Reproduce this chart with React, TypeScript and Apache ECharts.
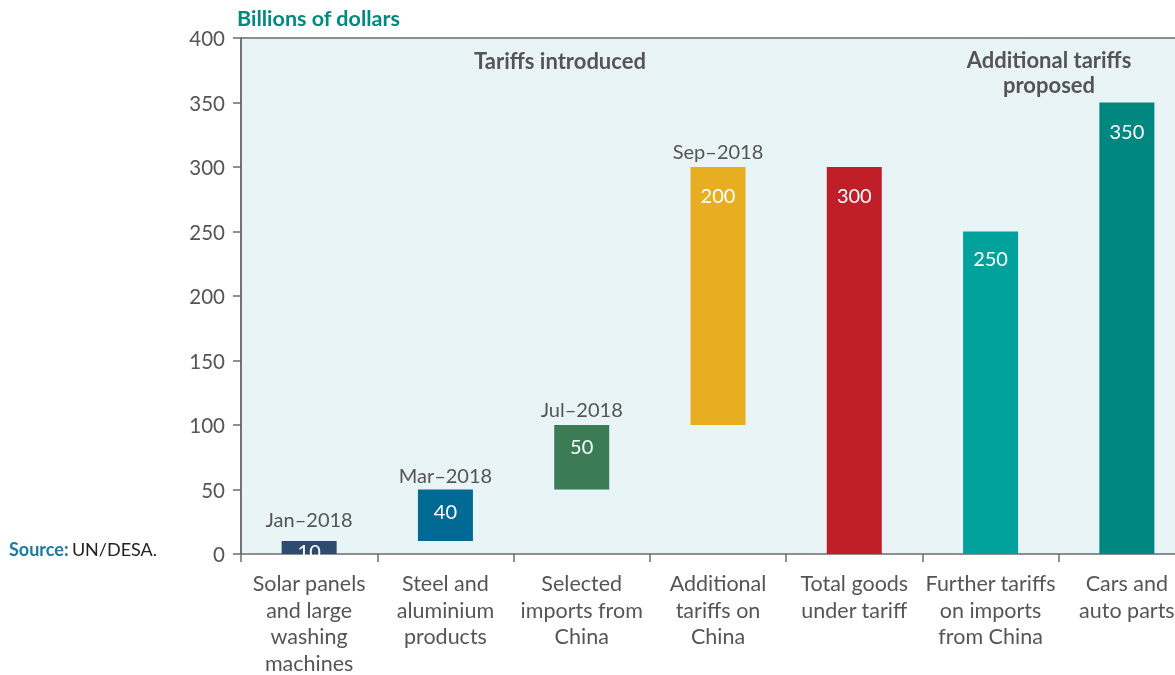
import React, { useEffect, useRef } from "react";
import * as echarts from "echarts";

const categories = [
  "Solar panels\nand large\nwashing\nmachines",
  "Steel and\naluminium\nproducts",
  "Selected\nimports from\nChina",
  "Additional\ntariffs on\nChina",
  "Total goods\nunder tariff",
  "Further tariffs\non imports\nfrom China",
  "Cars and\nauto parts",
];
const baseValues = [0, 10, 50, 100, 0, 0, 0];
const barValues = [10, 40, 50, 200, 300, 250, 350];
const dateLabels = ["Jan–2018", "Mar–2018", "Jul–2018", "Sep–2018", "", "", ""];
const barColors = ["#2c4b6e", "#006994", "#3b7c56", "#e7ae22", "#c01f29", "#00a29b", "#00877f"];
const yTicks = [0, 400, 50];

const FONT = "Lato";
const GREY = "#555555";

export default function App() {
  const ref = useRef<HTMLDivElement>(null);
  useEffect(() => {
    if (!ref.current) return;
    const chart = echarts.init(ref.current, undefined, { renderer: "svg" });
    chart.setOption({
      animation: false,
      textStyle: { fontFamily: FONT },
      grid: {
        left: 241,
        right: 25,
        top: 38,
        bottom: 121,
        outerBoundsMode: "none",
        containLabel: false,
        show: true,
        backgroundColor: "#e8f4f5",
        borderWidth: 0,
      },
      xAxis: [
        {
          type: "category",
          data: categories,
          axisLine: { lineStyle: { color: "#6b6b6b", width: 1.5 } },
          axisTick: { show: true, length: 8, lineStyle: { color: "#6b6b6b", width: 1.5 } },
          axisLabel: {
            color: GREY,
            fontSize: 21.5,
            lineHeight: 26.5,
            margin: 16,
            fontFamily: FONT,
            interval: 0,
          },
          splitLine: {
            show: true,
            interval: (index: number) => index === 5,
            lineStyle: { color: "#6b6b6b", width: 1.5 },
          },
        },
        {
          type: "category",
          data: categories,
          position: "top",
          axisLine: { show: true, lineStyle: { color: "#6b6b6b", width: 1.5 } },
          axisTick: { show: false },
          axisLabel: { show: false },
        },
      ],
      yAxis: {
        type: "value",
        min: yTicks[0],
        max: yTicks[1],
        interval: yTicks[2],
        axisLine: { show: true, lineStyle: { color: "#6b6b6b", width: 1.5 } },
        axisTick: { show: true, length: 8, lineStyle: { color: "#6b6b6b", width: 1.5 } },
        axisLabel: { color: GREY, fontSize: 20.5, margin: 16, fontFamily: FONT },
        splitLine: { show: false },
      },
      series: [
        {
          type: "bar",
          stack: "w",
          data: baseValues,
          barWidth: 55,
          itemStyle: { color: "transparent" },
          silent: true,
        },
        {
          type: "bar",
          stack: "w",
          barWidth: 55,
          data: barValues.map((v, i) => ({
            value: v,
            itemStyle: { color: barColors[i] },
            label:
              i === 0
                ? { position: "inside", offset: [0, 3] }
                : i === 1 || i === 2
                ? { distance: 11 }
                : i === 5
                ? { distance: 16 }
                : undefined,
          })),
          label: {
            show: true,
            position: "insideTop",
            distance: 18,
            color: "#ffffff",
            fontSize: 20,
            fontFamily: FONT,
            formatter: (p: any) => String(p.value),
          },
        },
        {
          type: "bar",
          stack: "w",
          barWidth: 55,
          data: barValues.map((v, i) => ({
            value: 0,
            label: i === 0 ? { distance: 12 } : i === 1 ? { distance: 5 } : undefined,
          })),
          itemStyle: { color: "transparent" },
          label: {
            show: true,
            position: "top",
            distance: 6,
            color: GREY,
            fontSize: 20,
            fontFamily: FONT,
            formatter: (p: any) => dateLabels[p.dataIndex],
          },
        },
      ],
      graphic: [
        {
          type: "text",
          left: 237,
          top: 7,
          style: {
            text: "Billions of dollars",
            fill: "#00897f",
            font: `bold 21.5px ${FONT}`,
          },
        },
        {
          type: "text",
          x: 560,
          y: 60,
          style: {
            text: "Tariffs introduced",
            fill: GREY,
            font: `bold 22px ${FONT}`,
            textAlign: "center",
            textVerticalAlign: "middle",
          },
        },
        {
          type: "text",
          x: 1049,
          y: 72,
          style: {
            text: "Additional tariffs\nproposed",
            fill: GREY,
            font: `bold 22px ${FONT}`,
            lineHeight: 25,
            textAlign: "center",
            textVerticalAlign: "middle",
          },
        },
        {
          type: "text",
          x: 9,
          y: 549,
          style: {
            text: "{a|Source:} {b|UN/DESA.}",
            textVerticalAlign: "middle",
            rich: {
              a: { fill: "#1b7aa2", font: `bold 18px ${FONT}` },
              b: { fill: "#222222", font: `18px ${FONT}` },
            },
          },
        },
      ],
    });
    return () => chart.dispose();
  }, []);
  return (
    <div
      ref={ref}
      style={{ position: "fixed", left: 0, top: 0, width: 1220, height: 675 }}
    />
  );
}
